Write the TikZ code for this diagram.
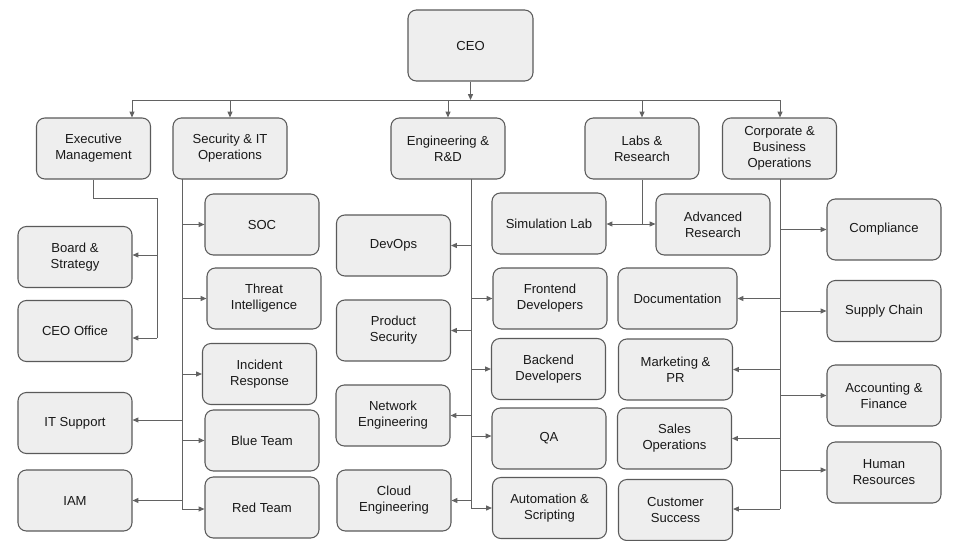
\documentclass[tikz,border=0pt]{standalone}
\usepackage{fontspec}
\setmainfont{Liberation Sans}
\usepackage{tikz}
\usetikzlibrary{arrows.meta,calc}
\definecolor{boxfill}{HTML}{EEEEEE}
\definecolor{boxline}{HTML}{5A5A5A}
\definecolor{wire}{HTML}{626262}
\tikzset{>={Triangle[length=4.2pt,width=3.6pt]}}
\tikzset{
  box/.style={rounded corners=6pt, draw=boxline, line width=0.75pt, fill=boxfill, align=center,
    minimum width=2.85cm, minimum height=1.525cm, inner sep=2pt,
    font=\fontsize{9.3}{11.3}\selectfont, text=black!90},
  wideb/.style={minimum width=2.975cm},
  line/.style={draw=wire, line width=0.7pt},
  arrow/.style={->, draw=wire, line width=0.7pt},
}

\begin{document}
\begin{tikzpicture}[x=0.025cm, y=-0.025cm]
\useasboundingbox (0,0) rectangle (960,540);

% top level
\node[box, minimum width=3.125cm, minimum height=1.775cm] (ceo) at (470.5,45.5) {CEO};
\node[box] (exec) at (93.5,148.5) {Executive\\Management};
\node[box] (sec) at (230,148.5) {Security \& IT\\Operations};
\node[box] (eng) at (448,148.5) {Engineering \&\\R\&D};
\node[box] (labs) at (642,148.5) {Labs \&\\Research};
\node[box] (corp) at (779.5,148.5) {Corporate \&\\Business\\Operations};

% executive
\node[box] (board) at (75,257) {Board \&\\Strategy};
\node[box] (ceooff) at (75,331) {CEO Office};

% security & IT
\node[box] (itsup) at (75,423) {IT Support};
\node[box] (iam) at (75,500.5) {IAM};
\node[box] (soc) at (262,224.5) {SOC};
\node[box] (threat) at (264,298.5) {Threat\\Intelligence};
\node[box] (incid) at (259.5,374) {Incident\\Response};
\node[box] (blue) at (262,440.5) {Blue Team};
\node[box] (red) at (262,507.5) {Red Team};

% engineering
\node[box] (devops) at (393.5,245.5) {DevOps};
\node[box] (prodsec) at (393.5,330.5) {Product\\Security};
\node[box] (neteng) at (393,415.5) {Network\\Engineering};
\node[box] (cloud) at (394,500.5) {Cloud\\Engineering};
\node[box] (front) at (550,298.5) {Frontend\\Developers};
\node[box] (back) at (548.5,369) {Backend\\Developers};
\node[box] (qa) at (549,438.5) {QA};
\node[box] (auto) at (549.5,508) {Automation \&\\Scripting};

% labs
\node[box] (simlab) at (549,223.5) {Simulation Lab};
\node[box] (advres) at (713,224.5) {Advanced\\Research};

% corporate
\node[box, wideb] (docs) at (677.5,298.5) {Documentation};
\node[box] (mkt) at (675.5,369.5) {Marketing \&\\PR};
\node[box] (sales) at (674.5,438.5) {Sales\\Operations};
\node[box] (cust) at (675.5,510) {Customer\\Success};
\node[box] (compl) at (884,229.5) {Compliance};
\node[box] (supply) at (884,311) {Supply Chain};
\node[box] (acct) at (884,395.5) {Accounting \&\\Finance};
\node[box] (hr) at (884,472.5) {Human\\Resources};

% ceo to divisions
\coordinate (bar) at (470.5,100);
\coordinate (barL) at (132,100);
\coordinate (barR) at (780,100);
\draw[line] (barL) -- (barR);
\draw[arrow] (ceo.south) -- (bar);
\draw[arrow] (barL) -- (barL |- exec.north);
\draw[arrow] (sec.north |- bar) -- (sec.north);
\draw[arrow] (eng.north |- bar) -- (eng.north);
\draw[arrow] (labs.north |- bar) -- (labs.north);
\draw[arrow] (barR) -- (barR |- corp.north);

% executive trunk
\coordinate (exA) at (93.5,198);
\coordinate (exB) at (157,198);
\coordinate (exC) at (157,338);
\draw[line] (exec.south) -- (exA) -- (exB) -- (exC);
\draw[arrow] (exB |- 0,255) -- (board.east |- 0,255);
\draw[arrow] (exC) -- (ceooff.east |- exC);

% security trunk
\coordinate (secT) at (182,179);
\coordinate (secB) at (182,509);
\draw[line] (secT) -- (secB);
\foreach \n in {soc,threat,incid,blue}
  \draw[arrow] (secT |- \n) -- (\n.west);
\draw[arrow] (secB) -- (red.west |- secB);
\draw[arrow] (secT |- 0,420) -- (itsup.east |- 0,420);
\draw[arrow] (secT |- iam) -- (iam.east);

% engineering trunk
\coordinate (engT) at (471,179);
\coordinate (engB) at (471,508);
\draw[line] (engT) -- (engB);
\foreach \n in {devops,prodsec,neteng,cloud}
  \draw[arrow] (engT |- \n) -- (\n.east);
\foreach \n in {front,back,auto}
  \draw[arrow] (engT |- \n) -- (\n.west);
\draw[arrow] (engT |- 0,436) -- (qa.west |- 0,436);

% labs trunk
\coordinate (labJ) at (642,224);
\draw[line] (labs.south) -- (labJ);
\draw[arrow] (labJ) -- (simlab.east |- labJ);
\draw[arrow] (labJ) -- (advres.west |- labJ);

% corporate trunk
\coordinate (corT) at (780,179);
\coordinate (corB) at (780,509);
\draw[line] (corT) -- (corB);
\foreach \n in {docs,mkt,sales}
  \draw[arrow] (corT |- \n) -- (\n.east);
\draw[arrow] (corB) -- (cust.east |- corB);
\foreach \n in {compl,supply,acct}
  \draw[arrow] (corT |- \n) -- (\n.west);
\draw[arrow] (corT |- 0,470) -- (hr.west |- 0,470);
\end{tikzpicture}
\end{document}
